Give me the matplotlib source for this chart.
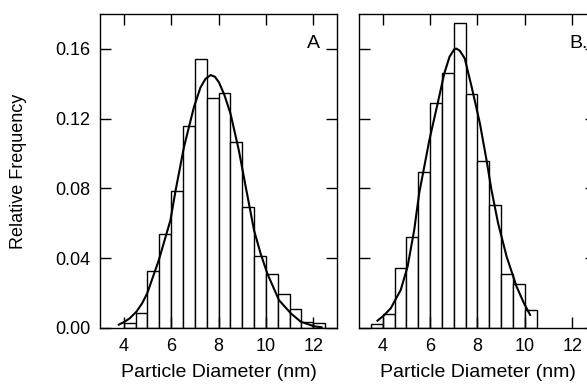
import matplotlib
matplotlib.use("Agg")
import matplotlib.pyplot as plt
import numpy as np

plt.rcParams['font.family'] = ['Liberation Sans', 'DejaVu Sans']

# histogram A: bins of 0.5 nm starting at 4.0 nm
edges_a = [4.0, 4.5, 5.0, 5.5, 6.0, 6.5, 7.0, 7.5, 8.0, 8.5, 9.0,
           9.5, 10.0, 10.5, 11.0, 11.5, 12.0, 12.5]
freq_a = [0.003, 0.0086, 0.0328, 0.0537, 0.0787, 0.116, 0.154, 0.132, 0.135,
          0.1067, 0.0695, 0.041, 0.031, 0.0194, 0.0109, 0.0034, 0.0029]

# fitted curve A
fit_xa = [3.79, 4.0, 4.25, 4.54, 4.77, 4.99, 5.48, 5.97, 6.19, 6.54, 6.96,
          7.24, 7.45, 7.67, 7.85, 8.02, 8.25, 8.51, 8.86, 9.15, 9.5, 9.78,
          10.06, 10.55, 11.05, 11.47, 12.03, 12.35]
fit_ya = [0.0019, 0.0033, 0.0055, 0.0094, 0.0140, 0.0198, 0.0389, 0.0617,
          0.0789, 0.1036, 0.1265, 0.1379, 0.1428, 0.145, 0.1440, 0.1408,
          0.1335, 0.1227, 0.1017, 0.0808, 0.056, 0.0425, 0.0312, 0.016,
          0.0084, 0.0036, 0.0010, 0.0004]

# histogram B: bins of 0.5 nm starting at 3.5 nm
edges_b = [3.5, 4.0, 4.5, 5.0, 5.5, 6.0, 6.5, 7.0, 7.5, 8.0, 8.5, 9.0,
           9.5, 10.0, 10.5]
freq_b = [0.0025, 0.008, 0.0344, 0.052, 0.0897, 0.1287, 0.1459, 0.1749,
          0.1344, 0.0956, 0.0703, 0.0312, 0.0254, 0.0105]

fit_xb = [3.78, 4.05, 4.34, 4.76, 5.05, 5.33, 5.54, 5.97, 6.32, 6.6, 6.82,
          7.02, 7.1, 7.25, 7.46, 7.75, 8.1, 8.38, 8.59, 8.87, 9.23, 9.65,
          9.95, 10.22]
fit_yb = [0.0042, 0.0072, 0.0113, 0.0218, 0.0352, 0.0562, 0.0773, 0.1078,
          0.1288, 0.146, 0.1555, 0.1598, 0.1602, 0.1590, 0.1546, 0.1384,
          0.1174, 0.0963, 0.0791, 0.06, 0.0409, 0.0237, 0.0145, 0.0075]

xticks = [4, 6, 8, 10, 12]
yticks = [0.00, 0.04, 0.08, 0.12, 0.16]

fig = plt.figure(figsize=(5.87, 3.87), dpi=100)
ax_a = fig.add_axes([0.1704, 0.1525, 0.4037, 0.8113])
ax_b = fig.add_axes([0.6116, 0.1525, 0.4037, 0.8113])

panels = [(ax_a, edges_a, freq_a, fit_xa, fit_ya, 'A', 12.0),
          (ax_b, edges_b, freq_b, fit_xb, fit_yb, 'B.', 12.25)]

for ax, edges, freq, fx, fy, tag, tx in panels:
    ax.bar(edges[:-1], freq, width=np.diff(edges), align='edge',
           facecolor='white', edgecolor='black', linewidth=1.0)
    ax.plot(fx, fy, color='black', lw=1.5)
    ax.set_xlim(3, 13)
    ax.set_ylim(0, 0.18)
    ax.set_xticks(xticks)
    ax.set_yticks(yticks)
    ax.tick_params(direction='in', top=True, right=True, length=8, width=1,
                   labelsize=13, pad=7)
    for s in ax.spines.values():
        s.set_linewidth(1.0)
    ax.set_xlabel('Particle Diameter (nm)', fontsize=14, labelpad=7)
    ax.text(tx, 0.163, tag, fontsize=14, ha='center', va='center')

ax_a.yaxis.set_major_formatter(matplotlib.ticker.FormatStrFormatter('%.2f'))
ax_a.set_ylabel('Relative Frequency', fontsize=13, labelpad=20)
ax_b.tick_params(labelleft=False)

fig.savefig('out.png', dpi=100)
